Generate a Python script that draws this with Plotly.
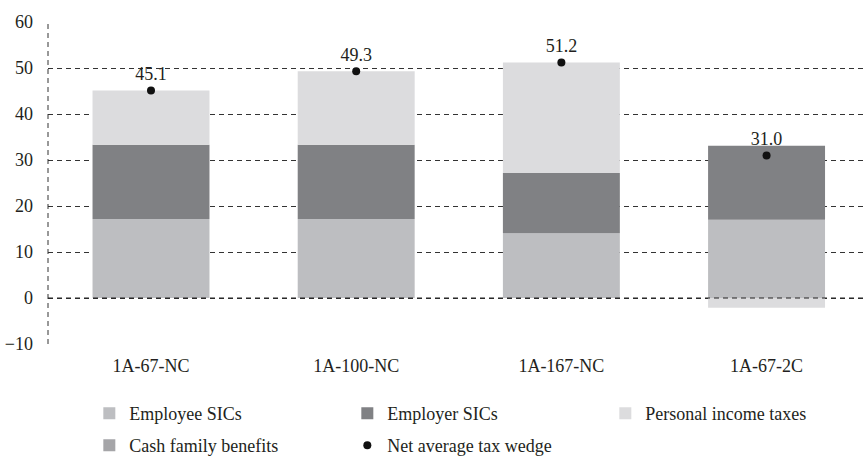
import plotly.graph_objects as go

categories = ["1A-67-NC", "1A-100-NC", "1A-167-NC", "1A-67-2C"]
employee_sics = [17.2, 17.2, 14.1, 17.0]
employer_sics = [16.1, 16.1, 13.1, 16.1]
personal_income_taxes = [11.8, 16.0, 24.0, -2.1]
cash_family_benefits = [0.0, 0.0, 0.0, 0.0]
net_tax_wedge = [45.1, 49.3, 51.2, 31.0]
y_ticks = [-10, 0, 10, 20, 30, 40, 50, 60]

FONT = "Liberation Serif"
TXT = "#231f20"
x_idx = list(range(len(categories)))

fig = go.Figure()
bar_w = 0.57
fig.add_trace(go.Bar(x=x_idx, y=employee_sics, name="Employee SICs", width=bar_w,
                     marker=dict(color="#bdbec1", line=dict(width=0)), legend="legend"))
fig.add_trace(go.Bar(x=x_idx, y=employer_sics, name="Employer SICs", width=bar_w,
                     marker=dict(color="#808184", line=dict(width=0)), legend="legend"))
fig.add_trace(go.Bar(x=x_idx, y=personal_income_taxes, name="Personal income taxes", width=bar_w,
                     marker=dict(color="#dcdcde", line=dict(width=0)), legend="legend"))
fig.add_trace(go.Bar(x=x_idx, y=cash_family_benefits, name="Cash family benefits", width=bar_w,
                     marker=dict(color="#a5a5a8", line=dict(width=0)), legend="legend2"))
fig.add_trace(go.Scatter(x=x_idx, y=net_tax_wedge, name="Net average tax wedge", mode="markers+text",
                         marker=dict(color="#111111", size=8),
                         text=[f"{v:.1f}" for v in net_tax_wedge], textposition="top center",
                         textfont=dict(family=FONT, size=18, color=TXT), legend="legend2"))
# invisible spacer entry so the last legend label is not clipped
fig.add_trace(go.Scatter(x=[None], y=[None], name=" ", mode="markers",
                         marker=dict(color="rgba(0,0,0,0)", size=1), hoverinfo="skip",
                         legend="legend2"))

# dashed left axis line and dashed zero line on top
fig.add_shape(type="line", xref="paper", yref="y", x0=0, x1=0, y0=-10, y1=60,
              line=dict(color="#333333", width=1, dash="5px,4px"), layer="above")
fig.add_shape(type="line", xref="paper", yref="y", x0=0, x1=1, y0=0, y1=0,
              line=dict(color="#222222", width=1, dash="5px,4px"), layer="above")

legend_common = dict(orientation="h", xref="paper", x=0.0507, xanchor="left",
                     yref="container", yanchor="top", entrywidth=213,
                     font=dict(family=FONT, size=18, color=TXT), bgcolor="rgba(0,0,0,0)")

fig.update_layout(
    width=863, height=457,
    margin=dict(l=48, r=0, t=22, b=113, autoexpand=False),
    paper_bgcolor="white", plot_bgcolor="white",
    barmode="relative",
    font=dict(family=FONT, size=18, color=TXT),
    xaxis=dict(range=[-0.502, 3.47], tickmode="array", tickvals=x_idx, ticktext=categories,
               showgrid=False, zeroline=False, showline=False, ticks="", automargin=False,
               ticklabelstandoff=9,
               tickfont=dict(family=FONT, size=18, color=TXT)),
    yaxis=dict(range=[-10, 60], tickvals=y_ticks, showgrid=True, gridcolor="#333333",
               griddash="5px,4px", gridwidth=1, zeroline=False, showline=False,
               ticks="", ticklabelstandoff=14, automargin=False,
               tickfont=dict(family=FONT, size=18, color=TXT)),
    showlegend=True,
    legend=dict(legend_common, y=1 - 395 / 457),
    legend2=dict(legend_common, y=1 - 427 / 457),
)

fig.write_html("out.html")
